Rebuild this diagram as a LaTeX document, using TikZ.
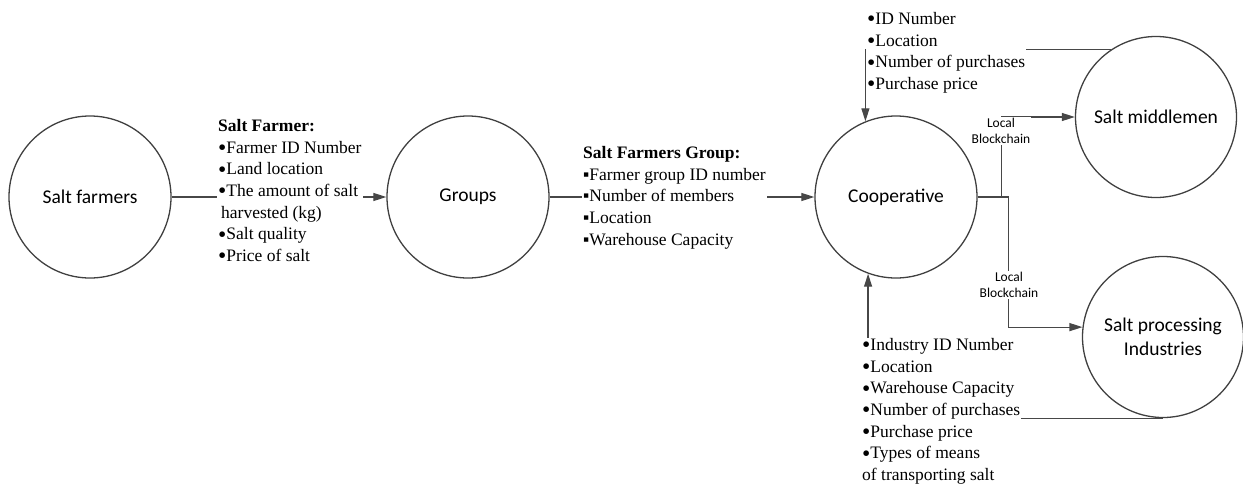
\documentclass[tikz,border=0pt]{standalone}
\usepackage{fontspec}
\usepackage{graphicx}
\setmainfont{Liberation Serif}
\newfontfamily\labelsans{Carlito}
\newcommand\dotitem{\raisebox{-2.4pt}{\scalebox{1.35}{•}}}
\usetikzlibrary{arrows.meta}
\begin{document}
\begin{tikzpicture}[x=1pt,y=-1pt,
  entity/.style={circle, draw=black!75, line width=1.3pt, minimum size=162pt, inner sep=0pt,
    font=\labelsans\fontsize{19.5}{23.5}\selectfont, align=center},
  wire/.style={draw=black!72, line width=1.2pt},
  tip/.style={-{Triangle[length=13pt,width=8pt]}},
  info/.style={fill=white, inner xsep=1pt, inner ysep=0pt, anchor=north west, align=left,
    font=\fontsize{17.5}{21.7}\selectfont},
  chain/.style={fill=white, inner sep=1pt, align=center, font=\labelsans\fontsize{13.5}{16}\selectfont}]
\useasboundingbox (0,0) rectangle (1243,485);

% actors of the salt supply chain
\node[entity] (far)  at (90,197)   {Salt farmers};
\node[entity] (grp)  at (468,197)  {Groups};
\node[entity] (coop) at (896,197)  {Cooperative};
\node[entity, minimum size=161pt] (mid)  at (1156,117) {Salt middlemen};
\node[entity, minimum size=161pt] (proc) at (1163,337) {Salt processing\\Industries};

% data flows
\draw[wire,tip] (far.east) -- (grp.west);
\draw[wire,tip] (grp.east) -- (coop.west);
\draw[wire,tip] (mid.124) -| (coop.112);
\draw[wire,tip] (proc.south) -| (coop.250.5);
\draw[wire,tip] (coop.east) -- ++(24,0) |- (mid.west);
\draw[wire,tip] (coop.east) -- ++(31,0) |- (proc.173.5);

% recorded attributes
\node[info] (lblFarmer) at (217,119) {\textbf{Salt Farmer:}\\\dotitem Farmer ID Number\\\dotitem Land location\\\dotitem The amount of salt\\\hspace{3pt}harvested (kg)\\\dotitem Salt quality\\\dotitem Price of salt};
\node[info] (lblGroup) at (582,146) {\textbf{Salt Farmers Group:}\\▪Farmer group ID number\\▪Number of members\\▪Location\\▪Warehouse Capacity};
\node[info] (lblMid) at (866,12) {\dotitem ID Number\\\dotitem Location\\\dotitem Number of purchases\\\dotitem Purchase price};
\node[info] (lblInd) at (861,338) {\dotitem Industry ID Number\\\dotitem Location\\\dotitem Warehouse Capacity\\\dotitem Number of purchases\\\dotitem Purchase price\\\dotitem Types of means\\of transporting salt};

% blockchain labels
\node[chain] (lblBc1) at (1001,131) {Local\\Blockchain};
\node[chain] (lblBc2) at (1009,285) {Local\\Blockchain};
\end{tikzpicture}
\end{document}
